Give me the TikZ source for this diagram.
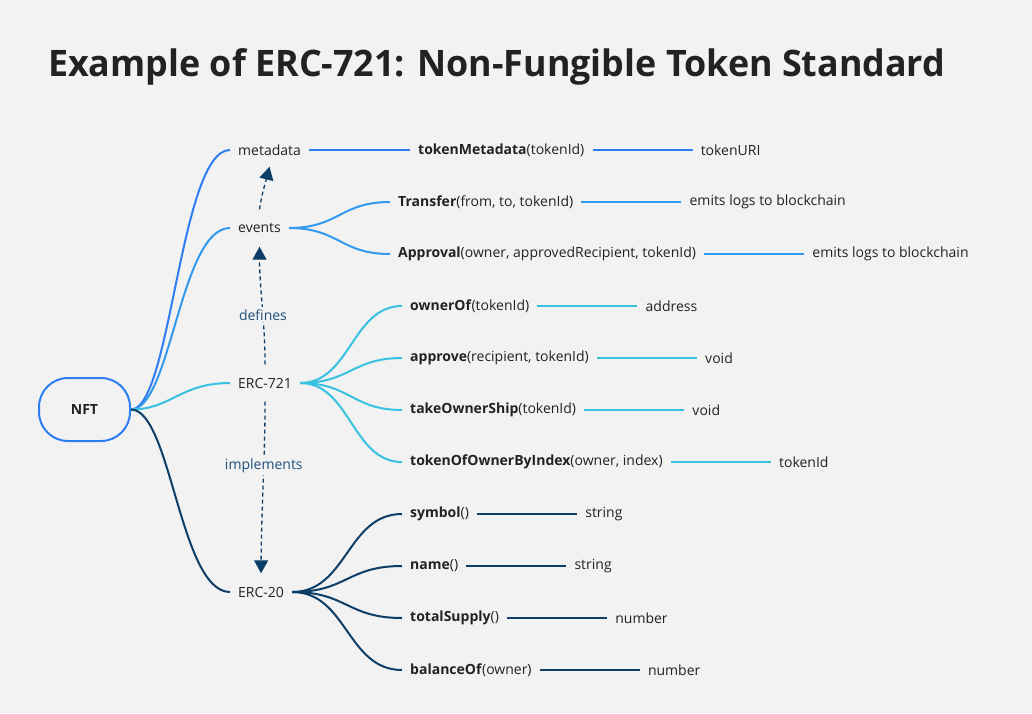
\documentclass[tikz,border=0pt]{standalone}
\usepackage{fontspec}
\usepackage{graphicx}
\setmainfont{Open Sans}
\usetikzlibrary{arrows.meta,positioning}
\definecolor{bg}{HTML}{F2F2F2}
\definecolor{cmeta}{HTML}{2F7DF4}
\definecolor{cevt}{HTML}{3399EE}
\definecolor{cerc}{HTML}{38C1E1}
\definecolor{cnavy}{HTML}{0D3E68}
\definecolor{clab}{HTML}{1F4F7B}
\definecolor{ctext}{HTML}{222222}
\tikzset{
  every node/.style={text=ctext, font=\fontsize{14}{16}\selectfont},
  nft/.style={draw=cmeta, line width=2pt, rounded corners=29pt, minimum width=91pt, minimum height=63pt, inner sep=0pt},
  lone/.style={anchor=west, inner xsep=8pt, inner ysep=0pt, minimum height=37pt},
  ltwo/.style={anchor=west, inner xsep=8pt, inner ysep=0pt, minimum height=24pt},
  leaf/.style={right=100pt of #1, inner xsep=8pt, inner ysep=0pt, minimum height=24pt},
  conn/.style={line width=2pt, draw=#1},
  darr/.style={draw=cnavy, line width=1.3pt, dash pattern=on 4pt off 3pt, -{Triangle[width=14pt,length=13pt]}},
  dlab/.style={fill=bg, text=clab, inner sep=2pt}
}
\begin{document}
\begin{tikzpicture}[x=1pt,y=-1pt]
\fill[bg] (0,0) rectangle (1032,713);
\useasboundingbox (0,0) rectangle (1032,713);
\node[anchor=base west, inner sep=0pt, text=ctext] (title) at (48,76) {\resizebox{897pt}{\height}{\fontsize{36.5}{40}\selectfont\bfseries Example of ERC-721: Non-Fungible Token Standard}};

\node[nft] (nft) at (84.5,409.5) {\textbf{NFT}};

\node[lone] (meta) at (230,150) {metadata};
\node[lone] (evt) at (230,228) {events};
\node[lone] (erc) at (230,383) {ERC-721};
\node[lone] (e20) at (230,592) {ERC-20};

\draw[conn=cmeta] (nft.east) .. controls +(40,0) and +(-50,0) .. (meta.west);
\draw[conn=cevt] (nft.east) .. controls +(40,0) and +(-50,0) .. (evt.west);
\draw[conn=cerc] (nft.east) .. controls +(40,0) and +(-50,0) .. (erc.west);
\draw[conn=cnavy] (nft.east) .. controls +(40,0) and +(-50,0) .. (e20.west);

% metadata
\node[ltwo] (tm) at (410,150) {\textbf{tokenMetadata}(tokenId)};
\node[leaf=tm] (uri) {tokenURI};
\draw[conn=cmeta] (meta.east) -- (tm.west);
\draw[conn=cmeta] (tm.east) -- (uri.west);

% events
\node[ltwo] (tr) at (390,202) {\textbf{Transfer}(from, to, tokenId)};
\node[leaf=tr] (trr) {emits logs to blockchain};
\node[ltwo] (ap) at (390,254) {\textbf{Approval}(owner, approvedRecipient, tokenId)};
\node[leaf=ap] (apr) {emits logs to blockchain};
\foreach \c/\r in {tr/trr, ap/apr}{
  \draw[conn=cevt] (evt.east) .. controls +(50,0) and +(-50,0) .. (\c.west);
  \draw[conn=cevt] (\c.east) -- (\r.west);
}

% ERC-721
\node[ltwo] (ow) at (402,306) {\textbf{ownerOf}(tokenId)};
\node[leaf=ow] (owr) {address};
\node[ltwo] (apv) at (402,358) {\textbf{approve}(recipient, tokenId)};
\node[leaf=apv] (apvr) {void};
\node[ltwo] (tk) at (402,410) {\textbf{takeOwnerShip}(tokenId)};
\node[leaf=tk] (tkr) {void};
\node[ltwo] (tb) at (402,462) {\textbf{tokenOfOwnerByIndex}(owner, index)};
\node[leaf=tb] (tbr) {tokenId};
\foreach \c/\r in {ow/owr, apv/apvr, tk/tkr, tb/tbr}{
  \draw[conn=cerc] (erc.east) .. controls +(50,0) and +(-50,0) .. (\c.west);
  \draw[conn=cerc] (\c.east) -- (\r.west);
}

% ERC-20
\node[ltwo] (sy) at (402,514) {\textbf{symbol}()};
\node[leaf=sy] (syr) {string};
\node[ltwo] (nm) at (402,566) {\textbf{name}()};
\node[leaf=nm] (nmr) {string};
\node[ltwo] (ts) at (402,618) {\textbf{totalSupply}()};
\node[leaf=ts] (tsr) {number};
\node[ltwo] (bo) at (402,670) {\textbf{balanceOf}(owner)};
\node[leaf=bo] (bor) {number};
\foreach \c/\r in {sy/syr, nm/nmr, ts/tsr, bo/bor}{
  \draw[conn=cnavy] (e20.east) .. controls +(55,0) and +(-55,0) .. (\c.west);
  \draw[conn=cnavy] (\c.east) -- (\r.west);
}

% dashed relations
\draw[darr] (evt.north) .. controls +(2,-15) and +(-3,12) .. ([yshift=2pt]meta.south);
\draw[darr] (erc.north) .. controls +(0,-40) and +(0,40) .. node[dlab, pos=0.42] {defines} (evt.south);
\draw[darr] (erc.south) .. controls +(0,50) and +(0,-50) .. node[dlab, pos=0.38] {implements} (e20.north);
\end{tikzpicture}
\end{document}
